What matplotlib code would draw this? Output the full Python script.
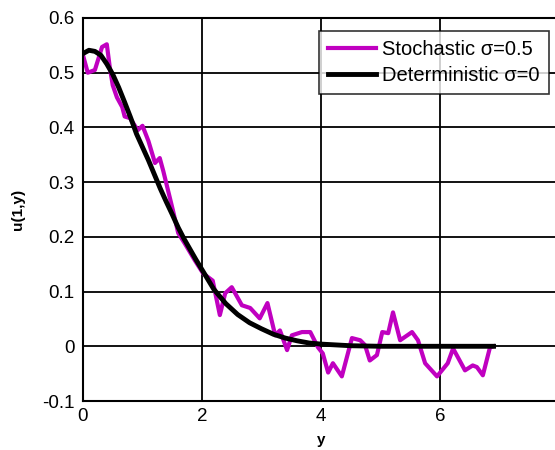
import matplotlib
matplotlib.use("Agg")
import matplotlib.pyplot as plt

plt.rcParams['font.family'] = ['Liberation Sans', 'DejaVu Sans']

# Stochastic sigma=0.5
stoch_x = [0, 0.08, 0.2, 0.32, 0.4, 0.45, 0.5, 0.57, 0.66, 0.7, 0.79, 0.92, 1.0, 1.1,
           1.21, 1.29, 1.35, 1.51, 1.6, 1.71, 1.88, 2.02, 2.18, 2.30, 2.39, 2.5, 2.67,
           2.81, 2.97, 3.1, 3.23, 3.31, 3.43, 3.51, 3.68, 3.82, 3.95, 4.03, 4.12, 4.2,
           4.35, 4.52, 4.66, 4.74, 4.82, 4.94, 5.03, 5.13, 5.21, 5.33, 5.53, 5.63, 5.75,
           5.95, 6.13, 6.22, 6.3, 6.42, 6.55, 6.62, 6.72, 6.84, 6.9]
stoch_u = [0.532, 0.50, 0.505, 0.547, 0.552, 0.51, 0.477, 0.455, 0.437, 0.42, 0.417,
           0.395, 0.403, 0.375, 0.335, 0.344, 0.32, 0.249, 0.207, 0.188, 0.157, 0.133,
           0.12, 0.057, 0.097, 0.108, 0.075, 0.07, 0.051, 0.079, 0.02, 0.029, -0.007,
           0.02, 0.026, 0.026, -0.002, -0.013, -0.048, -0.031, -0.055, 0.015, 0.011,
           0.002, -0.026, -0.016, 0.026, 0.024, 0.062, 0.011, 0.026, 0.011, -0.031,
           -0.055, -0.031, -0.004, -0.02, -0.044, -0.035, -0.038, -0.053, -0.002, 0.0]

# Deterministic sigma=0
det_x = [0, 0.1, 0.2, 0.3, 0.4, 0.5, 0.6, 0.7, 0.8, 0.9, 1.0, 1.1, 1.2, 1.3, 1.4, 1.5,
         1.6, 1.7, 1.8, 1.9, 2.0, 2.2, 2.4, 2.6, 2.8, 3.0, 3.2, 3.4, 3.6, 3.8, 4.0, 4.5,
         5.0, 6.0, 6.9]
det_u = [0.535, 0.541, 0.539, 0.532, 0.516, 0.497, 0.473, 0.446, 0.418, 0.388, 0.364,
         0.340, 0.314, 0.288, 0.264, 0.241, 0.217, 0.196, 0.177, 0.158, 0.140, 0.104,
         0.078, 0.058, 0.043, 0.032, 0.022, 0.015, 0.010, 0.006, 0.004, 0.001, 0.0,
         0.0, 0.0]

xticks = [0, 2, 4, 6, 8]
yticks = [-0.1, 0, 0.1, 0.2, 0.3, 0.4, 0.5, 0.6]
ytick_labels = ['-0.1', '0', '0.1', '0.2', '0.3', '0.4', '0.5', '0.6']

fig = plt.figure(figsize=(5.55, 4.5), dpi=100)
ax = fig.add_axes([83/555, 1-401/450, (559-83)/555, (401-18)/450])

l1, = ax.plot(stoch_x, stoch_u, color='#c000c0', lw=3, label='Stochastic σ=0.5')
l2, = ax.plot(det_x, det_u, color='black', lw=3.5, label='Deterministic σ=0')

ax.set_xlim(0, 8)
ax.set_ylim(-0.1, 0.6)
ax.set_xticks(xticks)
ax.set_xticklabels([str(t) for t in xticks])
ax.set_yticks(yticks)
ax.set_yticklabels(ytick_labels)
ax.grid(True, color='black', lw=1.3)
ax.set_axisbelow(True)
ax.tick_params(labelsize=13.5, length=0, colors='black')
ax.tick_params(axis='x', pad=5)
ax.tick_params(axis='y', pad=6)
for s in ax.spines.values():
    s.set_linewidth(1.5)
    s.set_color('black')

ax.set_xlabel('y', fontsize=11, fontweight='bold', labelpad=6)
ax.set_ylabel('u(1,y)', fontsize=11, fontweight='bold', labelpad=12)

leg = fig.legend(handles=[l1, l2], loc='upper right',
                 bbox_to_anchor=(549/555, 1-31/450), fontsize=14.5,
                 frameon=True, fancybox=False, edgecolor='black',
                 handlelength=2.4, handletextpad=0.3, borderpad=0.45,
                 labelspacing=0.35, borderaxespad=0)
leg.get_frame().set_linewidth(1.2)

fig.savefig('out.png', dpi=100)
